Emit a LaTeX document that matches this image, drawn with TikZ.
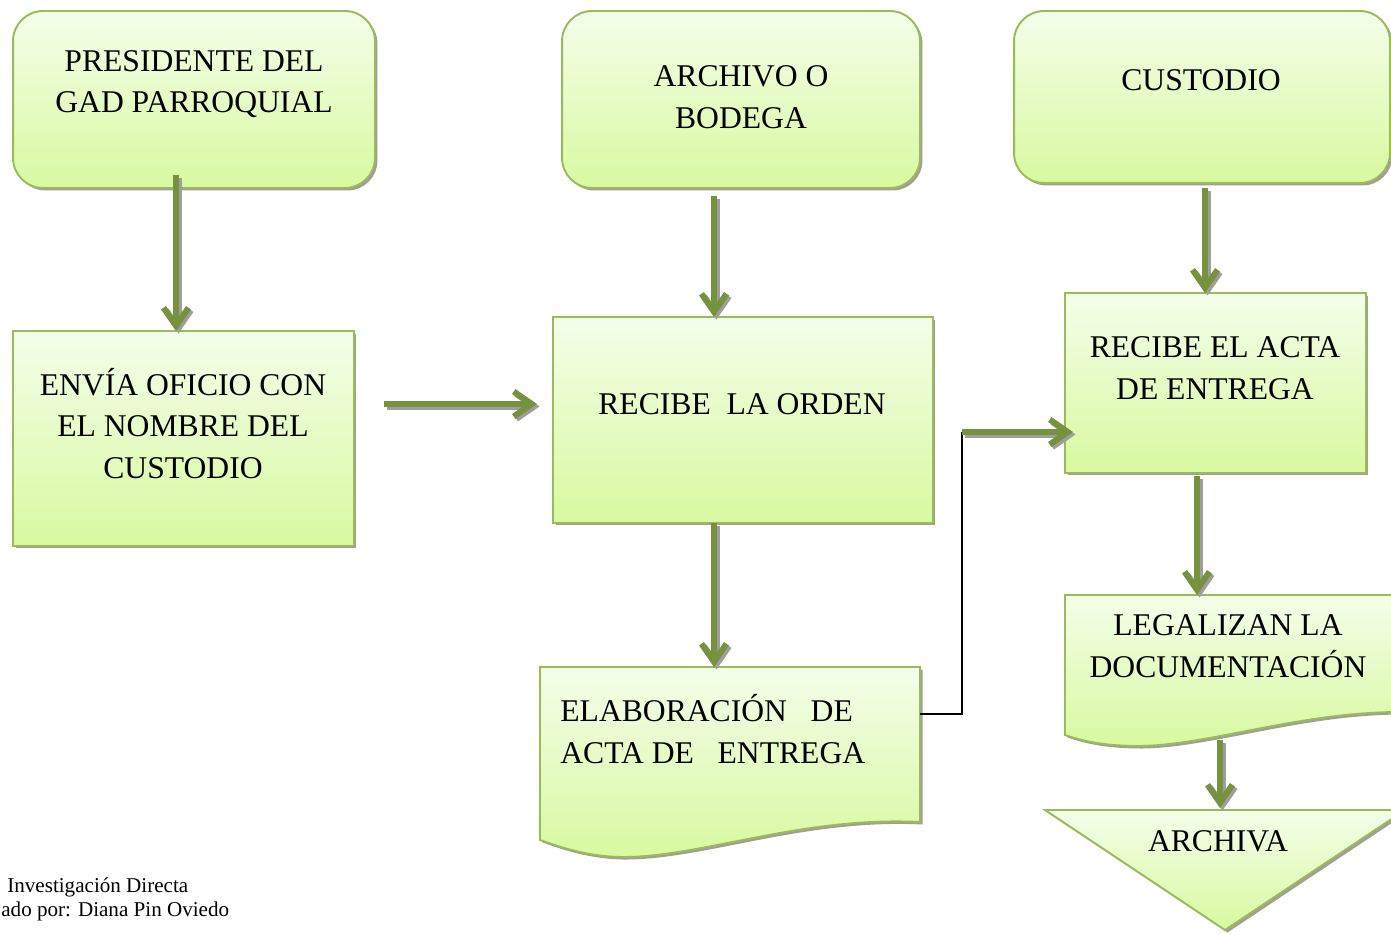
\documentclass[tikz,border=0pt]{standalone}
\usepackage{fontspec}
\setmainfont{Liberation Serif}
\usetikzlibrary{arrows.meta,shadows,calc}
\definecolor{bord}{HTML}{9BBB59}
\definecolor{arr}{HTML}{76923C}
\definecolor{ftop}{HTML}{F4FEEA}
\definecolor{fbot}{HTML}{D8F9A0}
\definecolor{shad}{HTML}{9E9E9E}
\tikzset{
  shp/.style={draw=bord, line width=1.1pt, top color=ftop, bottom color=fbot,
    drop shadow={shadow xshift=0.05cm, shadow yshift=-0.05cm, fill=shad, opacity=1}},
  rbox/.style={shp, rectangle, rounded corners=0.6cm, inner sep=0pt, outer sep=0pt},
  sbox/.style={shp, rectangle, inner sep=0pt, outer sep=0pt},
  lbl/.style={font=\fontsize{18}{23.8}\selectfont, align=center, inner sep=0pt},
  small/.style={font=\fontsize{12}{13.6}\selectfont, align=left, inner sep=0pt, anchor=west},
  gtip/.style={-{Straight Barb[length=0.36cm, width=0.5cm]}, line width=0.12cm},
  gshadow/.style={gtip, draw=shad, transform canvas={shift={(0.05cm,-0.05cm)}}},
  garrow/.style={gtip, draw=arr},
  blk/.style={black, line width=0.85pt}
}
\begin{document}
\begin{tikzpicture}[x=0.02cm,y=-0.02cm]
\useasboundingbox (0,0) rectangle (1391,933);

% top row
\node[rbox, minimum width=7.24cm, minimum height=3.54cm] (pres) at (194,99.5) {};
\node[lbl] (presT) at (194,84) {PRESIDENTE DEL\\GAD PARROQUIAL};
\node[rbox, minimum width=7.16cm, minimum height=3.54cm] (arch) at (741,99.5) {};
\node[lbl] (archT) at (741,97) {ARCHIVO O\\BODEGA};
\node[rbox, minimum width=7.52cm, minimum height=3.44cm] (cust) at (1202,97) {};
\node[lbl] (custT) at (1201,80) {CUSTODIO};

% middle row
\node[sbox, minimum width=6.82cm, minimum height=4.30cm] (envia) at (183.5,438.5) {};
\node[lbl] (enviaT) at (183,423.5) {ENVÍA OFICIO CON\\EL NOMBRE DEL\\CUSTODIO};
\node[sbox, minimum width=7.60cm, minimum height=4.12cm] (orden) at (743,420) {};
\node[lbl] (ordenT) at (742,404) {RECIBE\ \ LA ORDEN};
\node[sbox, minimum width=6.02cm, minimum height=3.60cm] (racta) at (1215.5,383) {};
\node[lbl] (ractaT) at (1215,368) {RECIBE EL ACTA\\DE ENTREGA};

% document shapes
\path[shp] (540,667) -- (920,667) -- (920,822)
  .. controls (800,816) and (700,858) .. (620,857)
  .. controls (585,856) and (560,847) .. (540,840) -- cycle;
\node[lbl, align=left, anchor=west] (elabT) at (560,729) {ELABORACIÓN\ \ \ DE\\ACTA DE\ \ \ ENTREGA};
\path[shp] (1065,595) -- (1400,595) -- (1400,712)
  .. controls (1300,712) and (1210,745) .. (1140,746)
  .. controls (1100,746) and (1080,740) .. (1065,735) -- cycle;
\node[lbl] (legalT) at (1228,646) {LEGALIZAN LA\\DOCUMENTACIÓN};

% triangle
\path[shp] (1045,810) -- (1405,810) -- (1225,930) -- cycle;
\node[lbl] (archivaT) at (1218,841) {ARCHIVA};

% source text
\node[small] (src1) at (7,887) {Investigación Directa};
\node[small] (src2) at (1,911) {ado por: Diana Pin Oviedo};

% connector coordinates
\coordinate (a1s) at (176,175);
\coordinate (a2s) at (384,404);
\coordinate (a2e) at (537,404);
\coordinate (a3s) at (714,196);
\coordinate (a4s) at (714,523);
\coordinate (elabN) at (714,667);
\coordinate (elabE) at (920,714);
\coordinate (a5s) at (1205,188);
\coordinate (a6s) at (1197,476);
\coordinate (legN) at (1197,595);
\coordinate (a7s) at (1220,740);
\coordinate (triN) at (1220,808);
\coordinate (bend) at (962,714);
\coordinate (bend2) at (962,432);
\coordinate (a8e) at (1073,432);

% arrow shadows
\draw[gshadow] (a1s) -- (a1s |- envia.north);
\draw[gshadow] (a2s) -- (a2e);
\draw[gshadow] (a3s) -- (a3s |- orden.north);
\draw[gshadow] (a4s) -- (elabN);
\draw[gshadow] (a5s) -- (a5s |- racta.north);
\draw[gshadow] (a6s) -- (legN);
\draw[gshadow] (a7s) -- (triN);
\draw[gshadow] (bend2) -- (a8e);
% arrows
\draw[garrow] (a1s) -- (a1s |- envia.north);
\draw[garrow] (a2s) -- (a2e);
\draw[garrow] (a3s) -- (a3s |- orden.north);
\draw[garrow] (a4s) -- (elabN);
\draw[garrow] (a5s) -- (a5s |- racta.north);
\draw[garrow] (a6s) -- (legN);
\draw[garrow] (a7s) -- (triN);
\draw[blk] (elabE) -- (bend) -- (bend2);
\draw[garrow] (bend2) -- (a8e);
\end{tikzpicture}
\end{document}
